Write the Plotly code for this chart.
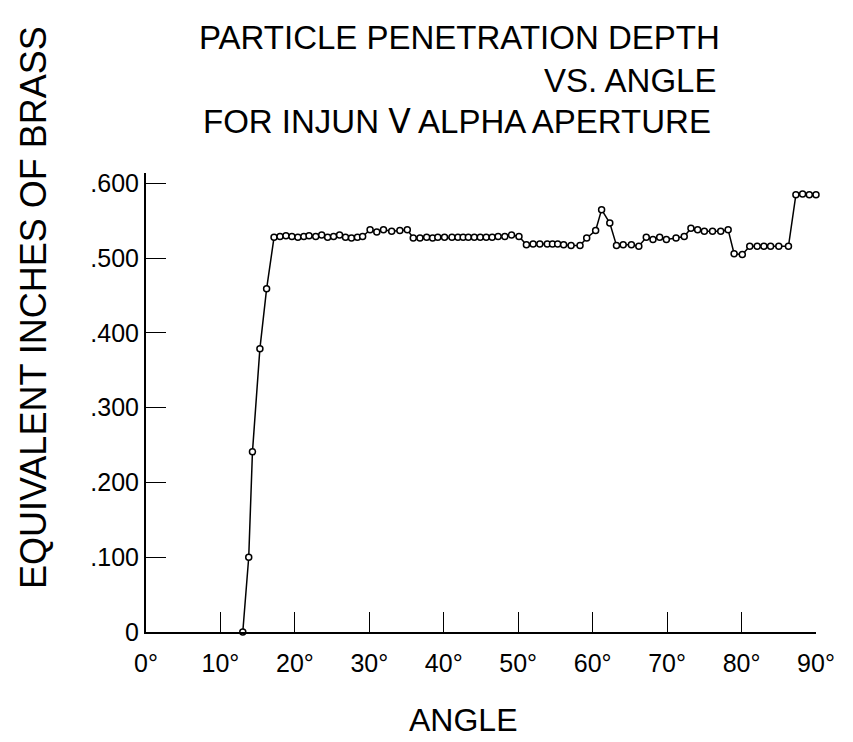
import plotly.graph_objects as go

angles = [13.0, 13.8, 14.3, 15.3, 16.2,
          17.2, 18.0, 18.8, 19.6, 20.4, 21.2, 21.9, 22.8, 23.6, 24.4, 25.2, 26.0, 26.8, 27.6, 28.4, 29.1,
          30.1, 31.0, 31.9, 33.0, 34.1, 35.1,
          35.9, 36.8, 37.7, 38.5, 39.2, 40.1, 41.1, 41.9, 42.6, 43.3, 44.1, 44.9, 45.7, 46.5, 47.3, 48.2, 49.1, 50.1,
          51.1, 52.0, 52.9, 53.9, 54.6, 55.3, 56.1, 57.1, 58.3, 59.2, 60.4, 61.2, 62.3,
          63.2, 64.1, 65.2, 66.2, 67.2, 68.1, 69.0, 69.9, 71.2, 72.3,
          73.2, 74.1, 75.0, 76.1, 77.2, 78.2, 79.0, 80.1,
          81.1, 82.1, 83.0, 83.9, 85.0, 86.3, 87.3, 88.2, 89.1, 90.0]
depth = [0.000, 0.100, 0.241, 0.379, 0.459,
         0.528, 0.529, 0.530, 0.529, 0.528, 0.529, 0.530, 0.529, 0.531, 0.528, 0.529, 0.531, 0.528, 0.527, 0.528, 0.529,
         0.538, 0.535, 0.538, 0.536, 0.537, 0.538,
         0.527, 0.527, 0.528, 0.527, 0.528, 0.528, 0.528, 0.528, 0.528, 0.528, 0.528, 0.528, 0.528, 0.528, 0.529, 0.529, 0.531, 0.529,
         0.518, 0.519, 0.519, 0.519, 0.519, 0.519, 0.518, 0.517, 0.517, 0.527, 0.537, 0.565, 0.547,
         0.517, 0.518, 0.518, 0.516, 0.528, 0.525, 0.528, 0.525, 0.527, 0.529,
         0.540, 0.538, 0.536, 0.536, 0.536, 0.538, 0.506, 0.505,
         0.516, 0.516, 0.516, 0.516, 0.516, 0.516, 0.585, 0.586, 0.585, 0.585]

x_ticks = [0, 10, 20, 30, 40, 50, 60, 70, 80, 90]
x_labels = ["0°", "10°", "20°", "30°", "40°", "50°", "60°", "70°", "80°", "90°"]
y_ticks = [0, 0.1, 0.2, 0.3, 0.4, 0.5, 0.6]
y_labels = ["0", ".100", ".200", ".300", ".400", ".500", ".600"]

title_lines = ["PARTICLE PENETRATION DEPTH", "VS. ANGLE", "FOR INJUN Ⅴ ALPHA APERTURE"]
x_title = "ANGLE"
y_title = "EQUIVALENT INCHES OF BRASS"

FONT = "Liberation Sans, DejaVu Sans"

fig = go.Figure()
fig.add_trace(go.Scatter(
    x=angles, y=depth, mode="lines+markers",
    line=dict(color="black", width=1.5),
    marker=dict(symbol="circle", size=6, color="white", line=dict(color="black", width=1.5)),
    cliponaxis=False, showlegend=False,
))

W, H = 853, 742
L, R = 146, 853 - 816
T, B = 173, 742 - 632
PW, PH = W - L - R, H - T - B


def px(xp):
    return (xp - L) / PW


def py(yp):
    return (H - B - yp) / PH


fig.update_layout(
    width=W, height=H,
    margin=dict(l=L, r=R, t=T, b=B),
    paper_bgcolor="white", plot_bgcolor="white",
    xaxis=dict(range=[0, 90], tickvals=x_ticks, ticktext=x_labels,
               ticks="inside", ticklen=20, tickwidth=1.2, tickcolor="black",
               showline=True, linecolor="black", linewidth=2, showgrid=False, zeroline=False,
               ticklabelstandoff=8,
               tickfont=dict(family=FONT, size=25, color="black")),
    yaxis=dict(range=[0, 0.614], tickvals=y_ticks, ticktext=y_labels,
               ticks="inside", ticklen=20, tickwidth=1.2, tickcolor="black",
               showline=True, linecolor="black", linewidth=2, showgrid=False, zeroline=False,
               tickfont=dict(family=FONT, size=25, color="black")),
)

fig.add_annotation(text=title_lines[0], xref="paper", yref="paper", x=px(459), y=py(38),
                   xanchor="center", yanchor="middle", showarrow=False,
                   font=dict(family=FONT, size=33, color="black"))
fig.add_annotation(text=title_lines[1], xref="paper", yref="paper", x=px(718), y=py(81),
                   xanchor="right", yanchor="middle", showarrow=False,
                   font=dict(family=FONT, size=33, color="black"))
fig.add_annotation(text=title_lines[2], xref="paper", yref="paper", x=px(457), y=py(122),
                   xanchor="center", yanchor="middle", showarrow=False,
                   font=dict(family=FONT, size=33, color="black"))
fig.add_annotation(text=x_title, xref="paper", yref="paper", x=px(463), y=py(720),
                   xanchor="center", yanchor="middle", showarrow=False,
                   font=dict(family=FONT, size=32, color="black"))
fig.add_annotation(text=y_title, xref="paper", yref="paper", x=px(33), y=py(308),
                   xanchor="center", yanchor="middle", showarrow=False, textangle=-90,
                   font=dict(family=FONT, size=36, color="black"))

fig.write_html("out.html")
